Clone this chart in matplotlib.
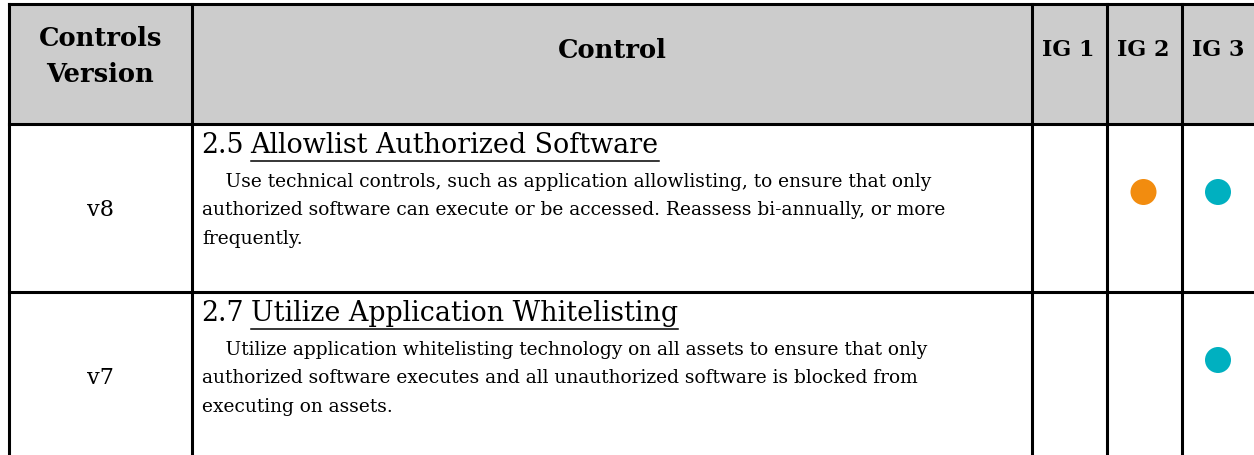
import matplotlib
matplotlib.use("Agg")
import matplotlib.pyplot as plt

# ---- data ----
header_version = ["Controls", "Version"]
header_control = "Control"
ig_labels = ["IG 1", "IG 2", "IG 3"]
versions = ["v8", "v7"]
control_ids = ["2.5", "2.7"]
control_titles = ["Allowlist Authorized Software", "Utilize Application Whitelisting"]
descriptions = [
    ["    Use technical controls, such as application allowlisting, to ensure that only",
     "authorized software can execute or be accessed. Reassess bi-annually, or more",
     "frequently."],
    ["    Utilize application whitelisting technology on all assets to ensure that only",
     "authorized software executes and all unauthorized software is blocked from",
     "executing on assets."],
]
ig1 = [False, False]
ig2 = [True, False]
ig3 = [True, True]
ig_colors = [None, "#F28C0F", "#00B0C0"]

# ---- layout (pixels) ----
W, H = 1254, 456
col_x = [9, 192, 1032, 1107, 1182, 1256]
row_y = [5, 125, 293, 458]
header_bg = "#CCCCCC"
lw = 2.2
serif = ["DejaVu Serif"]

fig = plt.figure(figsize=(W / 100, H / 100), dpi=100)
ax = fig.add_axes([0, 0, 1, 1])
ax.set_xlim(0, W)
ax.set_ylim(H, 0)
ax.axis("off")

# header background
ax.add_patch(plt.Rectangle((col_x[0], row_y[0]), col_x[-1] - col_x[0], row_y[1] - row_y[0],
                           facecolor=header_bg, edgecolor="none", zorder=0))
# grid lines
for x in col_x:
    ax.plot([x, x], [row_y[0], row_y[-1]], color="black", lw=lw, solid_capstyle="projecting", zorder=3)
for y in row_y:
    ax.plot([col_x[0], col_x[-1]], [y, y], color="black", lw=lw, solid_capstyle="projecting", zorder=3)

# header text
hdr_fs = 18.5
ig_fs = 16
cx0 = (col_x[0] + col_x[1]) / 2
ax.text(cx0, 38, header_version[0], ha="center", va="center", fontsize=hdr_fs,
        fontweight="bold", family=serif)
ax.text(cx0, 74, header_version[1], ha="center", va="center", fontsize=hdr_fs,
        fontweight="bold", family=serif)
ax.text((col_x[1] + col_x[2]) / 2, 50, header_control, ha="center", va="center", fontsize=hdr_fs,
        fontweight="bold", family=serif)
for i, lab in enumerate(ig_labels):
    ax.text((col_x[2 + i] + col_x[3 + i]) / 2 - 1, 50, lab, ha="center", va="center",
            fontsize=ig_fs, fontweight="bold", family=serif)

fig.canvas.draw()
renderer = fig.canvas.get_renderer()
inv = ax.transData.inverted()

title_fs = 19.4
body_fs = 13.4
igs = [ig1, ig2, ig3]
for r in range(len(versions)):
    top = row_y[1 + r]
    ty = top + 21
    ax.text(cx0, top + 85, versions[r], ha="center", va="center", fontsize=16, family=serif)
    t_id = ax.text(col_x[1] + 9, ty, control_ids[r], ha="left", va="center", fontsize=title_fs,
                   family=serif)
    bb = t_id.get_window_extent(renderer)
    x1 = inv.transform((bb.x1, bb.y0))[0]
    t_title = ax.text(x1 + 7, ty, control_titles[r], ha="left", va="center", fontsize=title_fs,
                      family=serif)
    bb2 = t_title.get_window_extent(renderer)
    (ux0, _), (ux1, _) = inv.transform([(bb2.x0, bb2.y0), (bb2.x1, bb2.y0)])
    ax.plot([ux0, ux1], [ty + 16, ty + 16], color="black", lw=1.1, zorder=4)
    for k, line in enumerate(descriptions[r]):
        ax.text(col_x[1] + 10, top + 57 + k * 28.5, line, ha="left", va="center",
                fontsize=body_fs, family=serif)
    for i in range(3):
        if igs[i][r]:
            ax.scatter([(col_x[2 + i] + col_x[3 + i]) / 2 - 1], [top + 68], s=(26 * 0.72) ** 2,
                       color=ig_colors[i], edgecolors="none", zorder=5)

fig.savefig("out.png", dpi=100)
